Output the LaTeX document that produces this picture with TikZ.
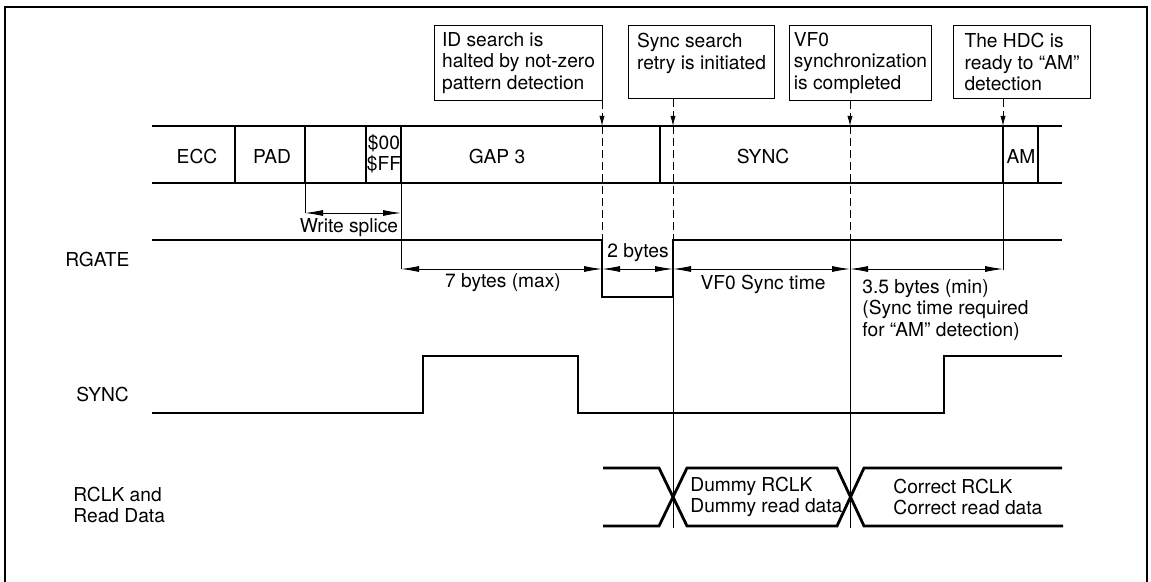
\documentclass[tikz,border=0pt]{standalone}
\usepackage{fontspec}
\setmainfont{TeX Gyre Heros}
\usepackage{tikz}
\usetikzlibrary{arrows.meta, positioning}

\tikzset{
  callout/.style={draw, line width=0.5pt, anchor=north west, align=left, inner xsep=2pt, minimum height=36.5pt},
  lbl/.style={inner sep=0pt},
  trk/.style={line width=1pt},
  sig/.style={line width=1.4pt},
  guide/.style={line width=0.4pt, dash pattern=on 4pt off 2pt},
  pointer/.style={guide, -{Latex[length=5pt,width=2.6pt]}},
  dim/.style={line width=0.4pt, {Latex[length=9pt,width=3pt]}-{Latex[length=9pt,width=3pt]}}
}

\begin{document}
\begin{tikzpicture}[x=0.5pt, y=-0.5pt, font=\fontsize{9.6}{10.8}\selectfont]
        \useasboundingbox (0,0) rectangle (1151,582);
        \draw[line width=0.7pt] (5,582) -- (5,7) -- (1147,7) -- (1147,582);

        \coordinate (t1) at (602,0);
        \coordinate (t2) at (673,0);
        \coordinate (t3) at (850,0);
        \coordinate (t4) at (1003,0);
        \coordinate (trktop) at (0,126);
        \coordinate (rgate) at (0,240);

        \node[callout, minimum width=84pt] (idbox) at (434,25) {ID search is\\halted by not-zero\\pattern detection};
        \node[callout, minimum width=73pt] (retrybox) at (628,25) {Sync search\\retry is initiated\\\mbox{}};
        \node[callout, minimum width=71pt] (vfobox) at (789,25) {VF0\\synchronization\\is completed};
        \node[callout, minimum width=68.5pt] (hdcbox) at (953,25) {The HDC is\\ready to ``AM''\\detection};

        % sector layout
        \draw[trk] (152,126) -- (1062,126) (152,183) -- (1062,183);
        \foreach \x in {235,305,366,401,660,1003,1038}
          \draw[trk] (\x,126) -- (\x,183);
        \node[lbl] (ecc) at (197,157) {ECC};
        \node[lbl] (pad) at (272,157) {PAD};
        \node[lbl, align=center] (ff) at (384,154) {\$00\\\$FF};
        \node[lbl] (gap) at (497,157) {GAP 3};
        \node[lbl] (syncfld) at (763,157) {SYNC};
        \node[lbl] (am) at (1021,157) {AM};

        \draw[pointer] (idbox.south -| t1) -- (t1 |- trktop);
        \draw[pointer] (retrybox.south -| t2) -- (t2 |- trktop);
        \draw[pointer] (vfobox.south -| t3) -- (t3 |- trktop);
        \draw[pointer] (hdcbox.south -| t4) -- (t4 |- trktop);
        \foreach \t in {t1,t2,t3}
          \draw[guide] (\t |- trktop) -- (\t |- rgate);

        % RGATE
        \node[lbl, anchor=west] (rgatelbl) at (65,260) {RGATE};
        \draw[sig] (152,240) -- (602,240) -- (602,297) -- (673,297) -- (673,240) -- (1062,240);
        \draw[line width=0.4pt] (305,183) -- (305,213);
        \draw[line width=0.4pt] (401,183) -- (401,269);
        \draw[line width=0.4pt] (1003,183) -- (1003,270);
        \draw[line width=0.4pt] (t2 |- 0,297) -- (t2 |- 0,528);
        \draw[line width=0.4pt] (t3 |- rgate) -- (t3 |- 0,528);

        \draw[dim] (305,213) -- (401,213);
        \node[lbl] (splice) at (349,228) {Write splice};
        \draw[dim] (401,269) -- (602,269);
        \node[lbl] (maxlbl) at (503,283) {7 bytes (max)};
        \draw[dim] (602,269) -- (673,269);
        \node[lbl] (twolbl) at (638,253) {2 bytes};
        \draw[dim] (673,269) -- (850,269);
        \node[lbl] (vfolbl) at (763,284) {VF0 Sync time};
        \draw[dim] (850,269) -- (1003,269);
        \node[lbl, anchor=north west, align=left] (minlbl) at (862,279) {3.5 bytes (min)\\(Sync time required\\for ``AM'' detection)};

        % SYNC
        \node[lbl, anchor=west] (synclbl) at (76,395) {SYNC};
        \draw[sig] (152,413) -- (423,413) -- (423,356) -- (578,356) -- (578,413) -- (944,413) -- (944,356) -- (1062,356);

        % RCLK and read data
        \node[lbl, anchor=west, align=left] (rclklbl) at (73,505) {RCLK and\\Read Data};
        \draw[sig] (603,468) -- (659,468) -- (687,526) -- (837,526) -- (864,468) -- (1062,468);
        \draw[sig] (603,526) -- (659,526) -- (687,468) -- (837,468) -- (864,526) -- (1063,526);
        \node[lbl, anchor=west, align=left] (dummy) at (690,497) {Dummy RCLK\\Dummy read data};
        \node[lbl, anchor=west, align=left] (correct) at (893,497) {Correct RCLK\\Correct read data};
      \end{tikzpicture}
\end{document}
